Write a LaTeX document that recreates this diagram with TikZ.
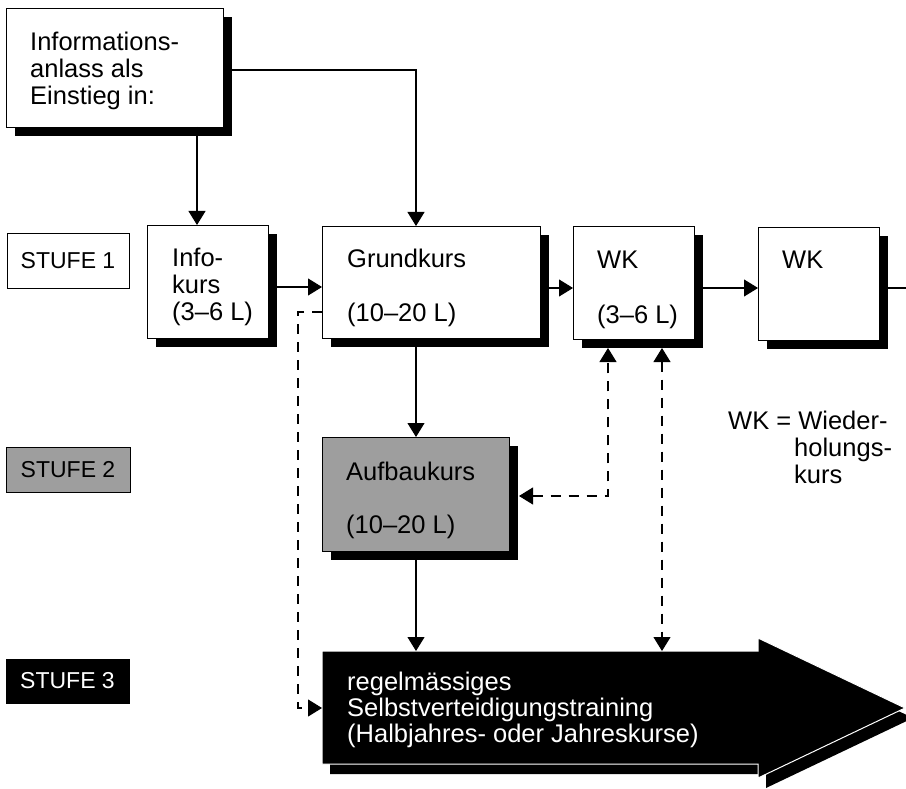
\documentclass[tikz,border=0pt]{standalone}
\usepackage{fontspec}
\setmainfont{Liberation Sans}
\usetikzlibrary{arrows.meta,shadows}
\begin{document}
\begin{tikzpicture}[x=1pt,y=-1pt,
  box/.style={draw, line width=0.9pt, fill=white, inner sep=0pt, outer sep=0pt, anchor=north west,
    drop shadow={shadow xshift=9pt,shadow yshift=-9pt,opacity=1,fill=black}},
  graybox/.style={box, fill=black!38},
  label/.style={draw, line width=0.9pt, inner sep=0pt, outer sep=0pt, anchor=north west,
    font=\fontsize{23}{26}\selectfont},
  txt/.style={anchor=base west, inner sep=0pt, font=\fontsize{25.5}{27}\selectfont},
  conn/.style={line width=1.1pt},
  dconn/.style={line width=1.1pt, dash pattern=on 10pt off 8pt},
  tip/.tip={Triangle[width=17pt,length=14pt]}
]
\useasboundingbox (0,0) rectangle (906,789);

% boxes
\node[box, minimum width=217pt, minimum height=119pt] (info) at (6,8) {};
\node[box, minimum width=121pt, minimum height=113pt] (ik) at (147,225) {};
\node[box, minimum width=218pt, minimum height=112pt] (gk) at (322,226) {};
\node[box, minimum width=121pt, minimum height=113pt] (wka) at (573,226) {};
\node[box, minimum width=121pt, minimum height=113pt] (wkb) at (758,227) {};
\node[graybox, minimum width=187pt, minimum height=114pt] (ak) at (322,437) {};

% stage labels
\node[label, minimum width=122pt, minimum height=55pt] (s1) at (7,233) {STUFE 1};
\node[label, fill=black!38, minimum width=124pt, minimum height=45pt] (s2) at (6,447) {STUFE 2};
\node[label, fill=black, text=white, minimum width=123pt, minimum height=44pt] (s3) at (6,659) {STUFE 3};

% big arrow
\fill[black] (330,661) -- (766,661) -- (766,648) -- (913,718) -- (766,788) -- (766,774) -- (330,774) -- cycle;
\filldraw[fill=black, draw=white, line width=1pt] (322,651) -- (758,651) -- (758,638) -- (905,708) -- (758,778) -- (758,764) -- (322,764) -- cycle;
\node[inner sep=0pt, outer sep=0pt, anchor=north west, minimum width=436pt, minimum height=113pt] (ba) at (322,651) {};

% texts
\node[txt] (t1) at (30,51) {Informations-};
\node[txt] (t2) at (30,78) {anlass als};
\node[txt] (t3) at (30,105) {Einstieg in:};
\node[txt] (t4) at (172,266) {Info-};
\node[txt] (t5) at (172,293) {kurs};
\node[txt] (t6) at (172,320) {(3–6 L)};
\node[txt] (t7) at (347,268) {Grundkurs};
\node[txt] (t8) at (347,321) {(10–20 L)};
\node[txt] (t9) at (597,269) {WK};
\node[txt] (t10) at (597,323) {(3–6 L)};
\node[txt] (t11) at (782,269) {WK};
\node[txt] (t12) at (346,480) {Aufbaukurs};
\node[txt] (t13) at (346,533) {(10–20 L)};
\node[txt, text=white] (t14) at (347,690) {regelmässiges};
\node[txt, text=white] (t15) at (347,716) {Selbstverteidigungstraining};
\node[txt, text=white] (t16) at (347,742) {(Halbjahres- oder Jahreskurse)};
\node[txt] (t17) at (728,429) {WK = Wieder-};
\node[txt] (t18) at (794,456) {holungs-};
\node[txt] (t19) at (794,483) {kurs};

% helper coordinates
\coordinate (c1) at (416,70);
\coordinate (c2) at (197,0);
\coordinate (c3) at (0,287);
\coordinate (c4) at (0,288);
\coordinate (out) at (906,288);
\coordinate (d0) at (298,312);
\coordinate (d1) at (608,496);
\coordinate (d2) at (662,0);
\coordinate (wkab) at ([yshift=-9pt]wka.south);
\coordinate (aks) at ([xshift=10pt]ak.east);

% connectors
\draw[conn,-tip] (info.east |- c1) -- (c1) -- (gk.north -| c1);
\draw[conn,-tip] (info.south -| c2) -- (ik.north -| c2);
\draw[conn,-tip] (ik.east |- c3) -- (gk.west |- c3);
\draw[conn,-tip] (gk.east |- c4) -- (wka.west |- c4);
\draw[conn,-tip] (wka.east |- c4) -- (wkb.west |- c4);
\draw[conn] (wkb.east |- c4) -- (out);
\draw[conn,-tip] (gk.south -| c1) -- (ak.north -| c1);
\draw[conn,-tip] (ak.south -| c1) -- (ba.north -| c1);
\draw[dconn,-tip] (gk.west |- d0) -- (d0) -- (d0 |- 0,708) -- (ba.west |- 0,708);
\draw[dconn,tip-tip] (aks |- d1) -- (d1) -- (wkab -| d1);
\draw[dconn,tip-tip] (wkab -| d2) -- (ba.north -| d2);
\end{tikzpicture}
\end{document}
